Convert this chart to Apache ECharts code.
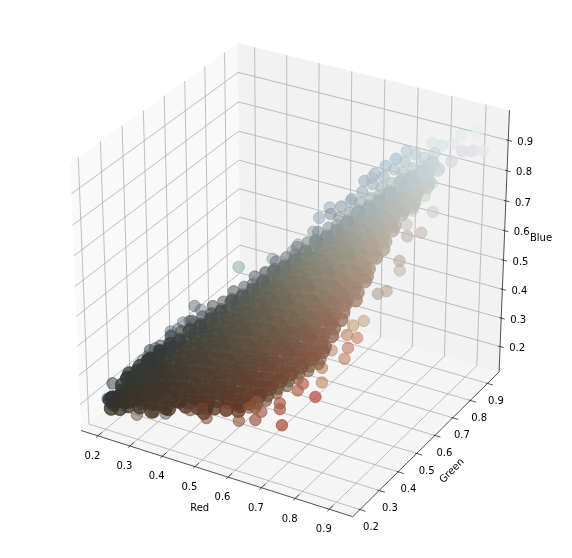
<!DOCTYPE html>
<html>
<head>
<meta charset="utf-8">
<style>html,body{margin:0;padding:0;background:#fff}#main{width:572px;height:558px}</style>
<script src="https://cdn.jsdelivr.net/npm/echarts@6/dist/echarts.min.js"></script>
</head>
<body>
<div id="main"></div>
<script>
// axis values
var redTicks = [0.2,0.3,0.4,0.5,0.6,0.7,0.8,0.9];
var greenTicks = [0.2,0.3,0.4,0.5,0.6,0.7,0.8,0.9];
var blueTicks = [0.2,0.3,0.4,0.5,0.6,0.7,0.8,0.9];
var redRange = [0.147,0.968];
var greenRange = [0.163,0.968];
var blueRange = [0.11,0.998];

// points, [red, green, blue] in percent
var ridgeTop = [[68,72,81],[70,74,83],[72,76,85],[74,78,87],[76,80,89],[62,65,72],[64,67,74],[66,69,76],[68,71,78],[70,73,80],[72,75,82],[74,77,84],[76,79,86],[78,81,88]];
var bandA = [[28,30,35],[30,32,36],[32,34,39],[34,36,40],[36,38,43],[38,40,44],[40,42,47],[42,44,48],[44,46,51],[46,48,52],[48,50,55],[50,52,56],[52,54,59],[54,56,60],[56,58,63],[58,60,64],[60,62,67],[62,64,68],[64,66,71],[66,68,72],[68,70,75],[70,72,76],[72,74,79],[74,76,80],[76,78,83],[78,80,84],[80,82,87],[82,84,88]];
var bandB = [[24,25,27],[26,27,29],[28,29,32],[30,31,33],[32,33,35],[34,35,37],[36,37,40],[38,39,41],[40,41,43],[42,43,45],[44,45,48],[46,47,49],[48,49,51],[50,51,53],[52,53,56],[54,55,57],[56,57,59],[58,59,61],[60,61,64],[62,63,65],[64,65,67],[66,67,69],[68,69,72],[70,71,73],[72,73,75],[74,75,77],[76,77,80],[78,79,81],[80,81,83],[82,83,85]];
var bandC = [[21,22,21],[23,24,23],[25,26,25],[27,28,27],[29,30,29],[31,32,31],[33,34,33],[35,36,35],[37,38,37],[39,40,39],[41,42,41],[43,44,43],[45,46,45],[47,48,47],[49,50,49],[51,52,51],[53,54,53],[55,56,55],[57,58,57],[59,60,59],[61,62,61],[63,64,63],[65,66,65],[67,68,67],[69,70,69],[71,72,71],[73,74,73],[75,76,75],[77,78,77],[79,80,79],[81,82,81],[83,84,83]];
var bandD = [[22,20,19],[24,22,21],[26,24,23],[28,26,25],[30,28,27],[32,30,29],[34,32,31],[36,34,33],[38,36,35],[40,38,37],[42,40,39],[44,42,41],[46,44,43],[48,46,45],[50,48,47],[52,50,49],[54,52,51],[56,54,53],[58,56,55],[60,58,57],[62,60,59],[64,62,61],[66,64,63],[68,66,65],[70,68,67],[72,70,69],[74,72,71],[76,74,73],[78,76,75],[80,78,77],[82,80,79]];
var bandE = [[26,22,20],[28,24,22],[30,26,24],[32,28,26],[34,30,28],[36,32,30],[38,34,32],[40,36,34],[42,38,36],[44,40,38],[46,42,40],[48,44,42],[50,46,44],[52,48,46],[54,50,48],[56,52,50],[58,54,52],[60,56,54],[62,58,56],[64,60,58],[66,62,60],[68,64,62],[70,66,64],[72,68,66],[74,70,68],[76,72,70],[78,74,72],[80,76,74]];
var bandF = [[29,23,20],[31,25,21],[33,27,24],[35,29,25],[37,31,28],[39,33,29],[41,35,32],[43,37,33],[45,39,36],[47,41,37],[49,43,40],[51,45,41],[53,47,44],[55,49,45],[57,51,48],[59,53,49],[61,55,52],[63,57,53],[65,59,56],[67,61,57],[69,63,60],[71,65,61],[73,67,64],[75,69,65],[77,71,68]];
var bandG = [[32,24,19],[34,26,21],[36,28,23],[38,30,25],[40,32,27],[42,34,29],[44,36,31],[46,38,33],[48,40,35],[50,42,37],[52,44,39],[54,46,41],[56,48,43],[58,50,45],[60,52,47],[62,54,49],[64,56,51],[66,58,53],[68,60,55],[70,62,57],[72,64,59],[74,66,61],[76,68,63]];
var bandH = [[36,26,20],[38,28,22],[40,30,24],[42,32,26],[44,34,28],[46,36,30],[48,38,32],[50,40,34],[52,42,36],[54,44,38],[56,46,40],[58,48,42],[60,50,44],[62,52,46],[64,54,48],[66,56,50],[68,58,52],[70,60,54],[72,62,56],[74,64,58]];
var bandI = [[40,28,21],[42,30,23],[44,32,25],[46,34,27],[48,36,29],[50,38,31],[52,40,33],[54,42,35],[56,44,37],[58,46,39],[60,48,41],[62,50,43],[64,52,45],[66,54,47],[68,56,49],[70,58,51],[72,60,53],[74,62,55]];
var bandJ = [[43,29,21],[45,31,22],[47,33,25],[49,35,26],[51,37,29],[53,39,30],[55,41,33],[57,43,34],[59,45,37],[61,47,38],[63,49,41],[65,51,42],[67,53,45],[69,55,46],[71,57,49],[73,59,50]];
var bandK = [[45,29,20],[47,31,21],[49,33,24],[51,35,25],[53,37,28],[55,39,29],[57,41,32],[59,43,33],[61,45,36],[63,47,37],[65,49,40],[67,51,41],[69,53,44],[71,55,45]];
var bandL = [[50,32,21],[52,34,23],[54,36,25],[56,38,27],[58,40,29],[60,42,31],[62,44,33],[64,46,35],[66,48,37],[68,50,39],[70,52,41]];
var bandM = [[53,33,21],[55,35,23],[57,37,25],[59,39,27],[61,41,29],[63,43,31],[65,45,33],[67,47,35],[69,49,37]];
var bandN = [[57,35,22],[59,37,24],[61,39,26],[63,41,28],[65,43,30],[67,45,32],[69,47,34]];

var fillA = [[30,31,35],[32,33,37],[34,35,38],[36,37,41],[38,39,42],[40,41,45],[42,43,46],[44,45,49],[46,47,50],[48,49,53],[50,51,54],[52,53,57],[54,55,58],[56,57,61],[58,59,62],[60,61,65],[62,63,66],[64,65,69],[66,67,70],[68,69,73],[70,71,74],[72,73,77],[74,75,78],[76,77,81],[78,79,82],[80,81,85],[82,83,86]];
var fillB = [[23,24,25],[25,26,27],[27,28,29],[29,30,31],[31,32,33],[33,34,35],[35,36,37],[37,38,39],[39,40,41],[41,42,43],[43,44,45],[45,46,47],[47,48,49],[49,50,51],[51,52,53],[53,54,55],[55,56,57],[57,58,59],[59,60,61],[61,62,63],[63,64,65],[65,66,67],[67,68,69],[69,70,71],[71,72,73],[73,74,75],[75,76,77],[77,78,79],[79,80,81],[81,82,83]];
var fillC = [[22,21,20],[24,23,22],[26,25,24],[28,27,26],[30,29,28],[32,31,30],[34,33,32],[36,35,34],[38,37,36],[40,39,38],[42,41,40],[44,43,42],[46,45,44],[48,47,46],[50,49,48],[52,51,50],[54,53,52],[56,55,54],[58,57,56],[60,59,58],[62,61,60],[64,63,62],[66,65,64],[68,67,66],[70,69,68],[72,71,70],[74,73,72],[76,75,74],[78,77,76],[80,79,78],[82,81,80]];
var fillD = [[24,21,19],[26,23,21],[28,25,23],[30,27,25],[32,29,27],[34,31,29],[36,33,31],[38,35,33],[40,37,35],[42,39,37],[44,41,39],[46,43,41],[48,45,43],[50,47,45],[52,49,47],[54,51,49],[56,53,51],[58,55,53],[60,57,55],[62,59,57],[64,61,59],[66,63,61],[68,65,63],[70,67,65],[72,69,67],[74,71,69],[76,73,71],[78,75,73],[80,77,75]];
var fillE = [[29,24,21],[31,26,23],[33,28,25],[35,30,27],[37,32,29],[39,34,31],[41,36,33],[43,38,35],[45,40,37],[47,42,39],[49,44,41],[51,46,43],[53,48,45],[55,50,47],[57,52,49],[59,54,51],[61,56,53],[63,58,55],[65,60,57],[67,62,59],[69,64,61],[71,66,63],[73,68,65],[75,70,67],[77,72,69]];
var fillF = [[32,25,21],[34,27,23],[36,29,25],[38,31,27],[40,33,29],[42,35,31],[44,37,33],[46,39,35],[48,41,37],[50,43,39],[52,45,41],[54,47,43],[56,49,45],[58,51,47],[60,53,49],[62,55,51],[64,57,53],[66,59,55],[68,61,57],[70,63,59],[72,65,61],[74,67,63],[76,69,65]];
var fillG = [[35,26,20],[37,28,22],[39,30,25],[41,32,26],[43,34,29],[45,36,30],[47,38,33],[49,40,34],[51,42,37],[53,44,38],[55,46,41],[57,48,42],[59,50,45],[61,52,46],[63,54,49],[65,56,50],[67,58,53],[69,60,54],[71,62,57],[73,64,58],[75,66,61]];
var fillH = [[40,29,22],[42,31,24],[44,33,26],[46,35,28],[48,37,30],[50,39,32],[52,41,34],[54,43,36],[56,45,38],[58,47,40],[60,49,42],[62,51,44],[64,53,46],[66,55,48],[68,57,50],[70,59,52],[72,61,54],[74,63,56]];
var fillI = [[43,30,22],[45,32,24],[47,34,26],[49,36,28],[51,38,30],[53,40,32],[55,42,34],[57,44,36],[59,46,38],[61,48,40],[63,50,42],[65,52,44],[67,54,46],[69,56,48],[71,58,50],[73,60,52]];
var fillJ = [[45,30,21],[47,32,23],[49,34,25],[51,36,27],[53,38,29],[55,40,31],[57,42,33],[59,44,35],[61,46,37],[63,48,39],[65,50,41],[67,52,43],[69,54,45],[71,56,47]];
var fillK = [[50,33,23],[52,35,25],[54,37,27],[56,39,29],[58,41,31],[60,43,33],[62,45,35],[64,47,37],[66,49,39],[68,51,41],[70,53,43]];
var fillL = [[53,34,22],[55,36,24],[57,38,26],[59,40,28],[61,42,30],[63,44,32],[65,46,34],[67,48,36],[69,50,38]];
var fillM = [[57,36,23],[59,38,25],[61,40,27],[63,42,29],[65,44,31],[67,46,33],[69,48,35]];
var darkCorner = [[21,21,21],[22,21,22],[22,22,20],[23,22,22],[23,23,21],[24,23,23],[24,24,22],[25,24,24],[25,25,23],[26,25,25],[26,26,24],[27,26,26],[27,27,25],[28,27,27],[28,28,26],[29,28,28],[29,29,27],[30,29,29],[30,30,28],[31,30,30],[25,22,21],[27,23,22],[29,25,23],[31,26,24],[33,27,25],[24,26,28],[26,28,30],[28,30,32],[30,32,34],[32,34,36]];
var strayBlue = [[40,55,53],[35,41,46],[35,44,43],[32,40,40],[34,40,41],[30,37,36],[30,37,38],[31,39,38],[28,35,32],[27,34,33],[25,31,30],[26,32,31],[22,21,27],[23,26,26],[21,20,22],[38,50,39],[36,48,40],[35,46,38],[34,43,39],[42,50,45],[54,62,61],[48,59,56],[47,57,52],[49,59,53],[50,56,50],[47,57,48],[58,63,66],[53,61,59],[60,68,72],[58,66,69],[64,72,73],[68,76,80],[70,85,82]];
var strayRed = [[28,23,17],[32,25,18],[35,26,18],[42,27,21],[45,28,22],[47,27,20],[51,30,22],[55,30,20],[60,30,22],[60,33,23],[57,32,24],[58,34,25],[65,34,25],[65,34,27],[68,30,23],[75,35,32],[70,47,28],[75,50,36],[77,53,42],[76,50,40],[70,47,33],[68,38,30],[69,39,32],[75,60,43],[73,58,42],[74,53,42],[70,52,36]];
var strayLight = [[88,96,92],[88,96,90],[84,95,89],[93,90,89],[91,89,89],[92,85,91],[90,84,91],[88,82,88],[82,94,86],[80,92,86],[77,92,86],[80,87,76],[78,86,76],[80,83,74],[83,82,70],[78,80,70],[78,77,67],[85,72,69],[82,70,68],[80,70,56],[80,63,53],[78,62,52],[82,66,62],[78,82,74]];

var coreBands = [bandB,bandC,bandD,bandE,bandF,bandG,bandH,bandI,bandJ,bandK,bandL,bandM,fillB,fillC,fillD,fillE,fillF,fillG,fillH,fillI,fillJ,fillK,fillL,darkCorner];
var rimBands = [ridgeTop,bandA,fillA,bandN,fillM];

// matplotlib style view, elev 30 azim -60, dist 10
function norm3(r,g,b){
    return [(r-redRange[0])/(redRange[1]-redRange[0])-0.5,
            (g-greenRange[0])/(greenRange[1]-greenRange[0])-0.5,
            (b-blueRange[0])/(blueRange[1]-blueRange[0])-0.5];
}
function depthOf(r,g,b){
    var q = norm3(r,g,b);
    return 0.433*q[0]-0.75*q[1]+0.5*q[2];
}
function project(r,g,b){
    var q = norm3(r,g,b);
    var w = 10-depthOf(r,g,b);
    var u = (0.866*q[0]+0.5*q[1])/w;
    var v = (-0.25*q[0]+0.433*q[1]+0.866*q[2])/w;
    return [293.3+3136*u, 271.8-3054*v];
}

// the mass looks darker than where it sits
var toneL = [0,0.2,0.3,0.4,0.5,0.6,0.7,0.8,1];
var toneF = [1,0.95,0.72,0.7,0.76,0.88,0.97,1,1];
function tone(l){
    for(var i=0;i<toneL.length-1;i++){
        if(l<=toneL[i+1]){
            return toneF[i]+(toneF[i+1]-toneF[i])*(l-toneL[i])/(toneL[i+1]-toneL[i]);
        }
    }
    return 1;
}
function clamp01(v){ return Math.max(0,Math.min(1,v)); }

var points = [];
function addPoints(list,kind){
    list.forEach(function(p){
        var r=p[0]/100,g=p[1]/100,b=p[2]/100,l=(r+g+b)/3;
        var c=[r,g,b];
        if(kind=='core'){
            var f=tone(l);
            var w=clamp01((l-0.55)/0.2);
            var e=clamp01((r-g-0.08)/0.1);
            c=[r*f*(1-0.05*w),g*f*(1.02-0.02*w-0.07*e),b*f*(0.9+0.1*w+0.08*e)];
        }
        if(kind=='rim'){
            var f2=tone(l);
            c=[r*f2*0.96,g*f2,b*f2*0.95];
        }
        if(kind=='light'){
            c=[l+(r-l)*0.45-0.01,l+(g-l)*0.45,l+(b-l)*0.45+0.01];
        }
        if(kind=='blue'){
            c=[l+(r-l)*0.5-0.03,l+(g-l)*0.5+0.01,l+(b-l)*0.5+0.03];
        }
        points.push({r:r,g:g,b:b,c:c,kind:kind,d:depthOf(r,g,b)});
    });
}
coreBands.forEach(function(l){ addPoints(l,'core'); });
rimBands.forEach(function(l){ addPoints(l,'rim'); });
addPoints(strayBlue,'blue');
addPoints(strayRed,'red');
addPoints(strayLight,'light');
points.sort(function(a,b){ return a.d-b.d; });
var dMin = points[0].d, dMax = points[points.length-1].d;

var scatterData = points.map(function(p){
    var xy = project(p.r,p.g,p.b);
    var a = 0.38+0.62*(p.d-dMin)/(dMax-dMin);
    var size = 11.5;
    if(p.kind=='core'){ a = 0.97; size = 14; }
    var c = 'rgba('+Math.round(p.c[0]*255)+','+Math.round(p.c[1]*255)+','+Math.round(p.c[2]*255)+','+a.toFixed(2)+')';
    return {value:xy,symbolSize:size,itemStyle:{color:c,borderColor:c,borderWidth:1}};
});

// panes, grid, axes and labels as a list of shapes
var shapes = [];
function poly(pts,fill){ shapes.push({t:'poly',pts:pts,fill:fill}); }
function line(a,b,color,w){ shapes.push({t:'line',a:a,b:b,color:color,w:w}); }
function label(txt,xy,rot){ shapes.push({t:'text',txt:txt,xy:xy,rot:rot||0}); }

var x0=redRange[0],x1=redRange[1],y0=greenRange[0],y1=greenRange[1],z0=blueRange[0],z1=blueRange[1];
var dx=x1-x0,dy=y1-y0;
poly([project(x0,y0,z0),project(x0,y1,z0),project(x0,y1,z1),project(x0,y0,z1)],'#f9f9f9');
poly([project(x0,y1,z0),project(x1,y1,z0),project(x1,y1,z1),project(x0,y1,z1)],'#f2f2f2');
poly([project(x0,y0,z0),project(x1,y0,z0),project(x1,y1,z0),project(x0,y1,z0)],'#f5f5f5');

var gridColor='#b0b0b0', axisColor='#262626';
redTicks.forEach(function(t){
    line(project(t,y0,z0),project(t,y1,z0),gridColor,0.8);
    line(project(t,y1,z0),project(t,y1,z1),gridColor,0.8);
    line(project(t,y0+dy*0.025,z0),project(t,y0-dy*0.012,z0),axisColor,0.8);
    var p=project(t,y0,z0);
    label(t.toFixed(1),[p[0]-5.5,p[1]+20.5]);
});
greenTicks.forEach(function(t){
    line(project(x0,t,z0),project(x1,t,z0),gridColor,0.8);
    line(project(x0,t,z0),project(x0,t,z1),gridColor,0.8);
    line(project(x1-dx*0.005,t,z0),project(x1+dx*0.02,t,z0),axisColor,0.8);
    var p=project(x1,t,z0);
    label(t.toFixed(1),[p[0]+11-(t-0.2)*3.6,p[1]+18]);
});
blueTicks.forEach(function(t){
    line(project(x0,y0,t),project(x0,y1,t),gridColor,0.8);
    line(project(x0,y1,t),project(x1,y1,t),gridColor,0.8);
    line(project(x1-dx*0.007,y1,t),project(x1+dx*0.013,y1,t),axisColor,0.8);
    var p=project(x1,y1,t);
    label(t.toFixed(1),[p[0]+17,p[1]+2]);
});
line(project(x0,y0,z0),project(x1,y0,z0),axisColor,0.8);
line(project(x1,y0,z0),project(x1,y1,z0),axisColor,0.8);
line(project(x1,y1,z0),project(x1,y1,z1),axisColor,0.8);
label('Red',[199.7,508.3]);
label('Green',[452,471],Math.PI/4);
label('Blue',[541,238]);

var myChart = echarts.init(document.getElementById('main'));
myChart.setOption({
    animation:false,
    grid:{left:0,right:0,top:0,bottom:0},
    xAxis:{type:'value',min:0,max:572,show:false},
    yAxis:{type:'value',min:0,max:558,inverse:true,show:false},
    series:[{
        type:'custom',
        silent:true,
        z:1,
        data:shapes.map(function(s,i){ return [i]; }),
        renderItem:function(params,api){
            var s = shapes[api.value(0)];
            if(s.t=='poly'){
                return {type:'polygon',shape:{points:s.pts.map(function(p){ return api.coord(p); })},style:{fill:s.fill,stroke:null}};
            }
            if(s.t=='line'){
                var a=api.coord(s.a),b=api.coord(s.b);
                return {type:'line',shape:{x1:a[0],y1:a[1],x2:b[0],y2:b[1]},style:{stroke:s.color,lineWidth:s.w}};
            }
            var c=api.coord(s.xy);
            return {type:'text',x:c[0],y:c[1],rotation:s.rot,style:{text:s.txt,fill:'#000',font:'10px "DejaVu Sans"',align:'center',verticalAlign:'middle'}};
        }
    },{
        type:'scatter',
        silent:true,
        z:2,
        symbol:'circle',
        data:scatterData
    }]
});
</script>
</body>
</html>
